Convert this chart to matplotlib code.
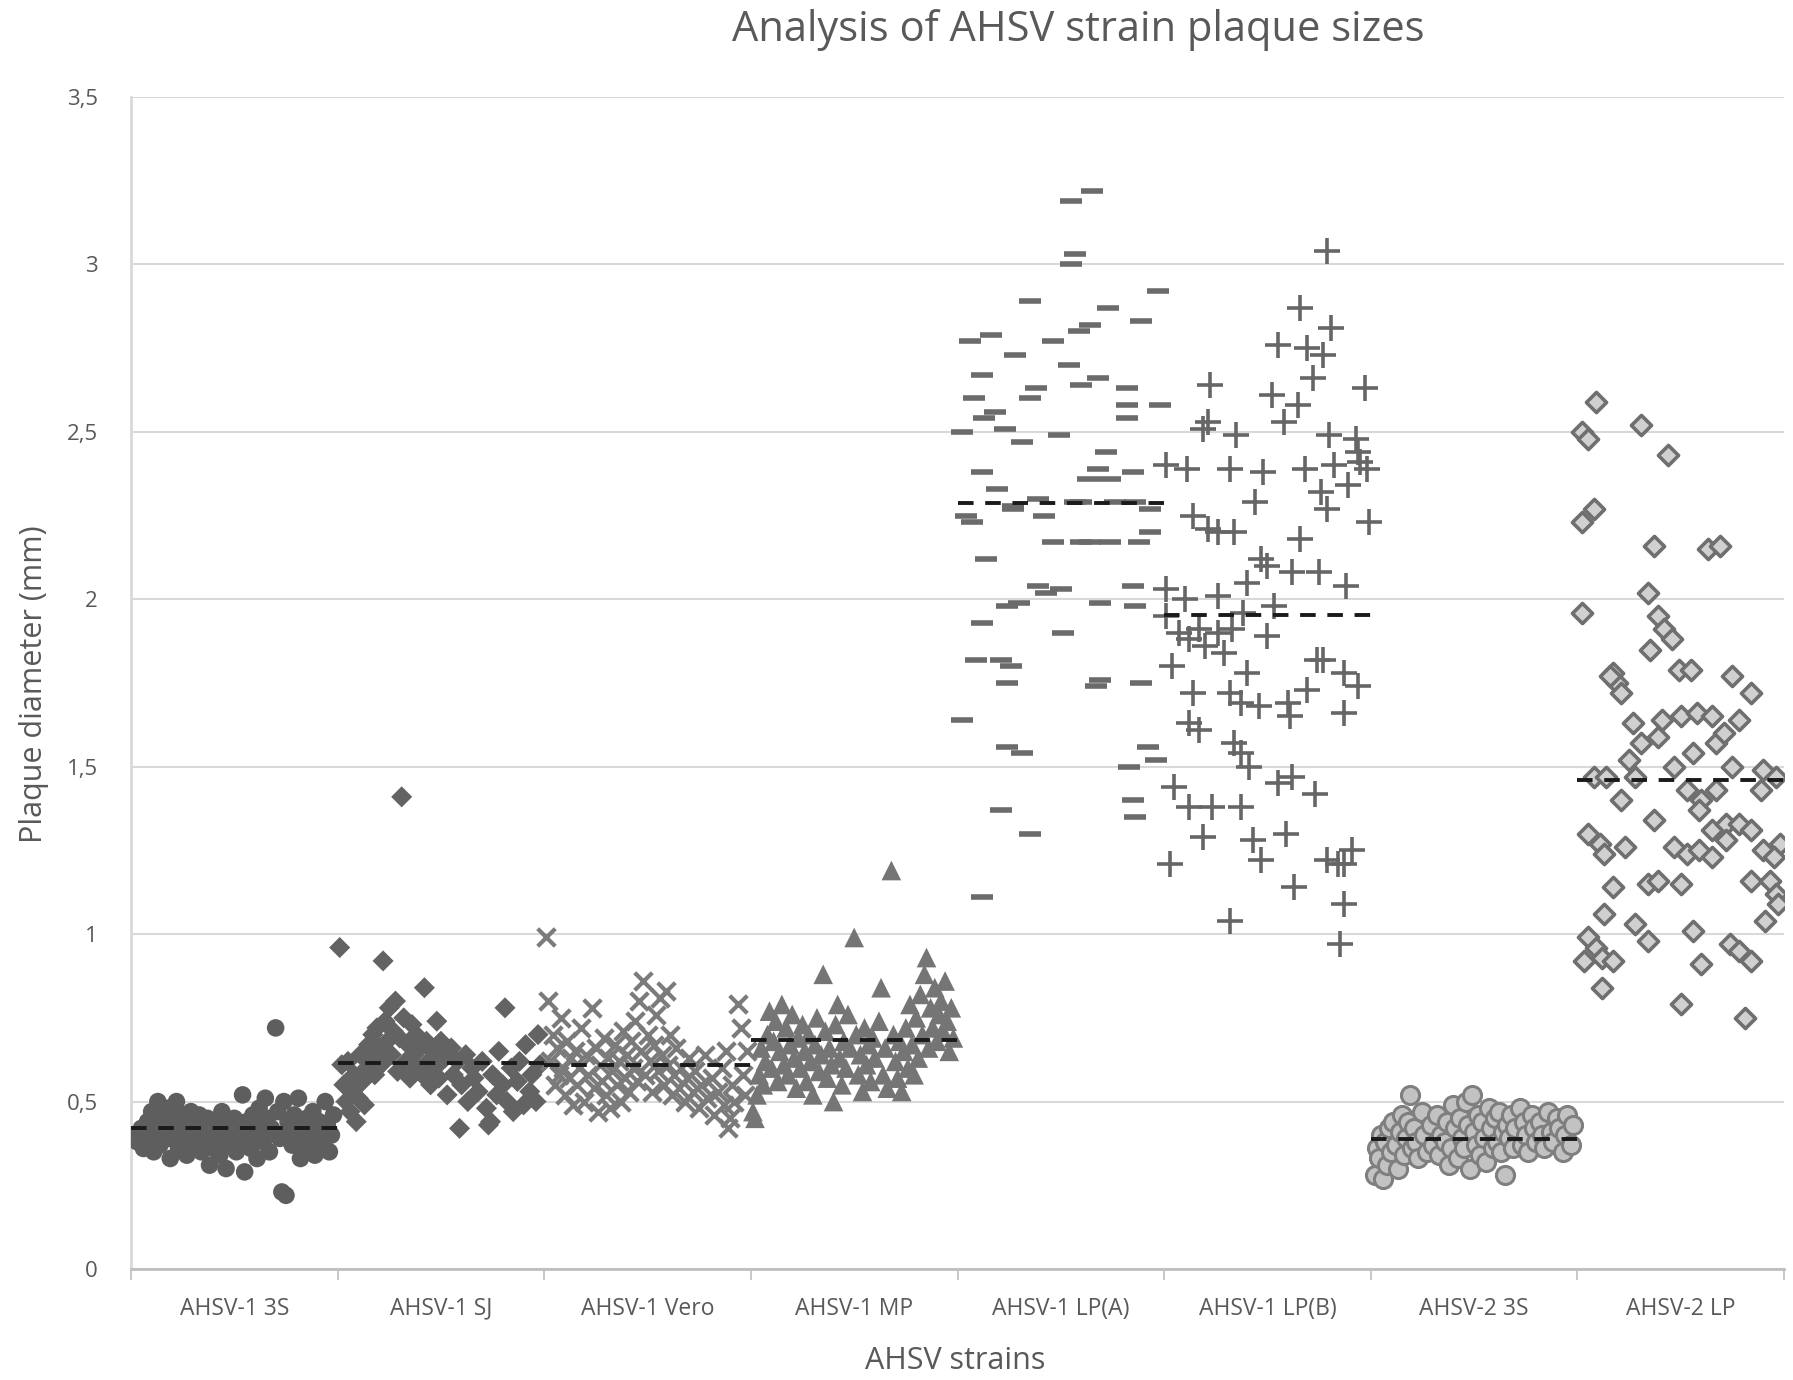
import matplotlib
matplotlib.use('Agg')
import matplotlib.pyplot as plt
from matplotlib.ticker import FixedLocator, NullFormatter

plt.rcParams['font.family'] = ['Open Sans', 'DejaVu Sans']

# category names and group means (dashed lines)
strains = ['AHSV-1 3S', 'AHSV-1 SJ', 'AHSV-1 Vero', 'AHSV-1 MP',
           'AHSV-1 LP(A)', 'AHSV-1 LP(B)', 'AHSV-2 3S', 'AHSV-2 LP']
means = [0.42, 0.615, 0.608, 0.683, 2.288, 1.953, 0.389, 1.461]

# position inside the category (0..1) and plaque diameter (mm)
s1_pos = [0.02, 0.03, 0.05, 0.06, 0.08, 0.09, 0.10, 0.11, 0.12, 0.13, 0.14, 0.15, 0.16, 0.17, 0.18,
          0.19, 0.20, 0.21, 0.22, 0.23, 0.24, 0.25, 0.26, 0.27, 0.28, 0.29, 0.30, 0.31, 0.32, 0.33,
          0.34, 0.35, 0.36, 0.37, 0.38, 0.39, 0.40, 0.41, 0.42, 0.43, 0.44, 0.45, 0.46, 0.47, 0.48,
          0.49, 0.50, 0.51, 0.52, 0.53, 0.54, 0.55, 0.56, 0.57, 0.58, 0.59, 0.60, 0.61, 0.62, 0.63,
          0.64, 0.65, 0.66, 0.67, 0.68, 0.70, 0.71, 0.72, 0.73, 0.74, 0.75, 0.76, 0.77, 0.78, 0.79,
          0.80, 0.81, 0.82, 0.83, 0.84, 0.85, 0.86, 0.87, 0.88, 0.89, 0.90, 0.91, 0.92, 0.94, 0.95,
          0.96, 0.97, 0.98]
s1_val = [0.40, 0.38, 0.42, 0.36, 0.44, 0.39, 0.47, 0.35, 0.41, 0.50, 0.37, 0.45, 0.43, 0.48, 0.39,
          0.33, 0.46, 0.41, 0.50, 0.36, 0.44, 0.38, 0.46, 0.34, 0.42, 0.47, 0.40, 0.37, 0.44, 0.46,
          0.35, 0.41, 0.38, 0.45, 0.31, 0.42, 0.36, 0.44, 0.40, 0.34, 0.47, 0.39, 0.30, 0.43, 0.37,
          0.41, 0.45, 0.35, 0.42, 0.38, 0.52, 0.29, 0.44, 0.40, 0.36, 0.46, 0.43, 0.33, 0.48, 0.41,
          0.38, 0.51, 0.45, 0.35, 0.42, 0.72, 0.47, 0.39, 0.23, 0.50, 0.22, 0.44, 0.41, 0.37, 0.46,
          0.43, 0.51, 0.33, 0.40, 0.36, 0.45, 0.42, 0.38, 0.47, 0.34, 0.41, 0.44, 0.37, 0.50, 0.43,
          0.35, 0.40, 0.46]

s2_pos = [0.01, 0.02, 0.03, 0.04, 0.05, 0.06, 0.07, 0.08, 0.09, 0.10, 0.11, 0.12, 0.13, 0.14, 0.15,
          0.16, 0.17, 0.18, 0.19, 0.20, 0.21, 0.22, 0.23, 0.24, 0.25, 0.26, 0.27, 0.28, 0.29, 0.30,
          0.31, 0.32, 0.33, 0.34, 0.35, 0.36, 0.37, 0.38, 0.39, 0.40, 0.41, 0.42, 0.43, 0.44, 0.45,
          0.46, 0.47, 0.48, 0.49, 0.50, 0.52, 0.53, 0.55, 0.56, 0.58, 0.59, 0.60, 0.62, 0.63, 0.65,
          0.66, 0.68, 0.70, 0.72, 0.73, 0.74, 0.75, 0.77, 0.78, 0.80, 0.81, 0.82, 0.84, 0.85, 0.87,
          0.88, 0.90, 0.91, 0.93, 0.94, 0.96, 0.97, 0.98]
s2_val = [0.96, 0.61, 0.55, 0.50, 0.62, 0.47, 0.53, 0.58, 0.44, 0.51, 0.64, 0.56, 0.49, 0.60, 0.67,
          0.63, 0.70, 0.58, 0.72, 0.66, 0.61, 0.92, 0.74, 0.68, 0.78, 0.64, 0.71, 0.80, 0.59, 0.69,
          1.41, 0.75, 0.62, 0.67, 0.57, 0.73, 0.64, 0.70, 0.60, 0.66, 0.58, 0.84, 0.68, 0.62, 0.55,
          0.65, 0.60, 0.74, 0.57, 0.68, 0.63, 0.52, 0.66, 0.58, 0.62, 0.42, 0.55, 0.64, 0.50, 0.60,
          0.57, 0.53, 0.62, 0.48, 0.43, 0.44, 0.58, 0.52, 0.65, 0.55, 0.78, 0.50, 0.60, 0.47, 0.56,
          0.62, 0.49, 0.67, 0.53, 0.58, 0.50, 0.70, 0.61]

s3_pos = [0.01, 0.02, 0.03, 0.04, 0.05, 0.06, 0.07, 0.08, 0.09, 0.10, 0.11, 0.12, 0.13, 0.14, 0.15,
          0.16, 0.17, 0.18, 0.19, 0.20, 0.21, 0.23, 0.24, 0.25, 0.26, 0.27, 0.28, 0.29, 0.30, 0.31,
          0.32, 0.33, 0.34, 0.35, 0.36, 0.37, 0.38, 0.39, 0.40, 0.41, 0.42, 0.43, 0.44, 0.45, 0.46,
          0.47, 0.48, 0.49, 0.50, 0.51, 0.52, 0.53, 0.54, 0.55, 0.56, 0.57, 0.58, 0.59, 0.60, 0.61,
          0.62, 0.63, 0.64, 0.65, 0.66, 0.68, 0.69, 0.70, 0.72, 0.73, 0.75, 0.76, 0.78, 0.79, 0.81,
          0.82, 0.84, 0.86, 0.87, 0.88, 0.89, 0.90, 0.91, 0.92, 0.94, 0.95, 0.96, 0.97, 0.98]
s3_val = [0.99, 0.80, 0.62, 0.70, 0.55, 0.66, 0.58, 0.75, 0.60, 0.52, 0.68, 0.57, 0.63, 0.49, 0.65,
          0.55, 0.60, 0.72, 0.50, 0.64, 0.58, 0.78, 0.54, 0.66, 0.47, 0.61, 0.56, 0.69, 0.52, 0.63,
          0.48, 0.59, 0.67, 0.55, 0.62, 0.50, 0.71, 0.57, 0.64, 0.53, 0.68, 0.60, 0.74, 0.56, 0.80,
          0.65, 0.86, 0.58, 0.70, 0.62, 0.53, 0.67, 0.76, 0.59, 0.81, 0.64, 0.55, 0.83, 0.61, 0.70,
          0.52, 0.58, 0.66, 0.54, 0.60, 0.50, 0.57, 0.63, 0.53, 0.59, 0.48, 0.55, 0.64, 0.51, 0.57,
          0.46, 0.53, 0.60, 0.49, 0.65, 0.42, 0.45, 0.55, 0.50, 0.79, 0.72, 0.58, 0.52, 0.65]

s4_pos = [0.01, 0.02, 0.03, 0.04, 0.05, 0.06, 0.07, 0.08, 0.09, 0.10, 0.11, 0.12, 0.13, 0.14, 0.15,
          0.16, 0.17, 0.18, 0.19, 0.20, 0.21, 0.22, 0.23, 0.24, 0.25, 0.26, 0.27, 0.28, 0.29, 0.30,
          0.31, 0.32, 0.33, 0.34, 0.35, 0.36, 0.37, 0.38, 0.39, 0.40, 0.41, 0.42, 0.43, 0.44, 0.45,
          0.46, 0.47, 0.48, 0.50, 0.51, 0.52, 0.53, 0.54, 0.55, 0.56, 0.57, 0.58, 0.59, 0.60, 0.62,
          0.63, 0.64, 0.65, 0.66, 0.68, 0.69, 0.70, 0.71, 0.72, 0.73, 0.74, 0.75, 0.76, 0.77, 0.78,
          0.79, 0.80, 0.81, 0.82, 0.83, 0.84, 0.85, 0.86, 0.87, 0.88, 0.89, 0.90, 0.91, 0.92, 0.93,
          0.94, 0.95, 0.96, 0.97, 0.98]
s4_val = [0.47, 0.45, 0.52, 0.58, 0.66, 0.55, 0.62, 0.70, 0.77, 0.60, 0.68, 0.74, 0.56, 0.65, 0.79,
          0.61, 0.72, 0.58, 0.67, 0.76, 0.63, 0.54, 0.69, 0.60, 0.73, 0.65, 0.56, 0.70, 0.62, 0.52,
          0.67, 0.75, 0.59, 0.64, 0.88, 0.71, 0.57, 0.66, 0.61, 0.50, 0.73, 0.79, 0.63, 0.55, 0.68,
          0.60, 0.76, 0.66, 0.99, 0.70, 0.58, 0.64, 0.53, 0.72, 0.61, 0.67, 0.56, 0.69, 0.63, 0.74,
          0.84, 0.58, 0.66, 0.54, 1.19, 0.70, 0.62, 0.57, 0.68, 0.53, 0.65, 0.72, 0.60, 0.79, 0.67,
          0.58, 0.75, 0.63, 0.82, 0.70, 0.88, 0.93, 0.66, 0.78, 0.72, 0.84, 0.68, 0.76, 0.80, 0.71,
          0.86, 0.74, 0.65, 0.78, 0.69]

s5_pos = [0.12, 0.21, 0.35, 0.02, 0.06, 0.08, 0.04, 0.07, 0.12, 0.13, 0.12, 0.16, 0.18, 0.19, 0.14,
          0.12, 0.09, 0.02, 0.21, 0.26, 0.24, 0.24, 0.31, 0.24, 0.28, 0.23, 0.27, 0.31, 0.35, 0.35,
          0.38, 0.39, 0.42, 0.39, 0.43, 0.30, 0.27, 0.46, 0.49, 0.46, 0.50, 0.51, 0.54, 0.55, 0.57,
          0.55, 0.65, 0.59, 0.64, 0.60, 0.57, 0.60, 0.63, 0.68, 0.73, 0.72, 0.74, 0.74, 0.67, 0.69,
          0.69, 0.64, 0.60, 0.82, 0.82, 0.82, 0.85, 0.88, 0.89, 0.86, 0.85, 0.86, 0.83, 0.85, 0.86,
          0.89, 0.92, 0.96, 0.97, 0.98, 0.93, 0.93, 0.76, 0.68]
s5_val = [1.11, 1.37, 1.30, 2.50, 2.77, 2.60, 2.25, 2.23, 2.67, 2.54, 2.38, 2.79, 2.56, 2.33, 2.12,
          1.93, 1.82, 1.64, 1.82, 1.80, 1.75, 1.56, 1.54, 1.98, 2.73, 2.51, 2.28, 2.47, 2.89, 2.60,
          2.63, 2.30, 2.25, 2.04, 2.02, 1.99, 2.27, 2.77, 2.49, 2.17, 2.03, 1.90, 2.70, 3.00, 3.03,
          3.19, 3.22, 2.80, 2.82, 2.64, 2.29, 2.29, 2.36, 2.39, 2.87, 2.44, 2.36, 2.17, 1.74, 1.76,
          1.99, 2.17, 2.17, 2.63, 2.58, 2.54, 2.38, 2.17, 2.83, 2.29, 2.04, 1.98, 1.50, 1.40, 1.35,
          1.75, 1.56, 1.52, 2.92, 2.58, 2.20, 2.27, 2.29, 2.66]

s6_pos = [0.79, 0.66, 0.81, 0.55, 0.69, 0.77, 0.72, 0.22, 0.97, 0.52, 0.65, 0.21, 0.58, 0.19, 0.35,
          0.80, 0.93, 0.94, 0.95, 0.98, 0.01, 0.11, 0.32, 0.48, 0.68, 0.82, 0.89, 0.44, 0.76, 0.79,
          0.14, 0.21, 0.26, 0.34, 0.99, 0.66, 0.47, 0.50, 0.62, 0.75, 0.40, 0.01, 0.88, 0.10, 0.26,
          0.53, 0.38, 0.01, 0.50, 0.07, 0.17, 0.26, 0.33, 0.12, 0.20, 0.29, 0.04, 0.74, 0.77, 0.40,
          0.87, 0.94, 0.69, 0.14, 0.32, 0.46, 0.60, 0.37, 0.61, 0.87, 0.12, 0.17, 0.34, 0.37, 0.41,
          0.55, 0.62, 0.05, 0.12, 0.23, 0.37, 0.73, 0.19, 0.43, 0.59, 0.47, 0.91, 0.79, 0.84, 0.87,
          0.03, 0.63, 0.87, 0.32, 0.85]
s6_val = [3.04, 2.87, 2.81, 2.76, 2.75, 2.73, 2.66, 2.64, 2.63, 2.61, 2.58, 2.53, 2.53, 2.51, 2.49,
          2.49, 2.48, 2.44, 2.41, 2.39, 2.40, 2.39, 2.39, 2.38, 2.39, 2.40, 2.34, 2.29, 2.32, 2.27,
          2.25, 2.21, 2.20, 2.20, 2.23, 2.18, 2.12, 2.10, 2.08, 2.08, 2.05, 2.03, 2.04, 2.00, 2.01,
          1.98, 1.96, 1.95, 1.89, 1.90, 1.91, 1.90, 1.91, 1.88, 1.86, 1.84, 1.80, 1.82, 1.82, 1.78,
          1.78, 1.74, 1.73, 1.72, 1.72, 1.68, 1.69, 1.69, 1.65, 1.66, 1.63, 1.61, 1.57, 1.54, 1.50,
          1.45, 1.47, 1.44, 1.38, 1.38, 1.38, 1.42, 1.29, 1.28, 1.30, 1.22, 1.25, 1.22, 1.21, 1.21,
          1.21, 1.14, 1.09, 1.04, 0.97]

s7_pos = [0.02, 0.03, 0.04, 0.05, 0.06, 0.07, 0.08, 0.09, 0.10, 0.11, 0.12, 0.13, 0.14, 0.15, 0.16,
          0.17, 0.18, 0.19, 0.20, 0.21, 0.22, 0.23, 0.25, 0.26, 0.27, 0.29, 0.30, 0.32, 0.33, 0.34,
          0.36, 0.37, 0.38, 0.39, 0.40, 0.41, 0.42, 0.43, 0.44, 0.45, 0.46, 0.47, 0.48, 0.49, 0.50,
          0.51, 0.52, 0.53, 0.54, 0.55, 0.56, 0.57, 0.58, 0.59, 0.60, 0.61, 0.62, 0.63, 0.64, 0.65,
          0.66, 0.67, 0.68, 0.69, 0.70, 0.72, 0.73, 0.74, 0.75, 0.76, 0.78, 0.79, 0.80, 0.82, 0.83,
          0.84, 0.86, 0.87, 0.88, 0.90, 0.91, 0.93, 0.94, 0.95, 0.97, 0.98]
s7_val = [0.28, 0.36, 0.33, 0.40, 0.27, 0.38, 0.31, 0.42, 0.35, 0.44, 0.37, 0.30, 0.41, 0.46, 0.34,
          0.39, 0.44, 0.52, 0.36, 0.42, 0.38, 0.33, 0.47, 0.40, 0.35, 0.43, 0.37, 0.46, 0.34, 0.40,
          0.38, 0.44, 0.31, 0.36, 0.49, 0.42, 0.33, 0.45, 0.39, 0.36, 0.50, 0.43, 0.30, 0.52, 0.41,
          0.37, 0.46, 0.34, 0.44, 0.39, 0.32, 0.48, 0.42, 0.36, 0.45, 0.38, 0.47, 0.35, 0.41, 0.28,
          0.43, 0.39, 0.46, 0.36, 0.42, 0.48, 0.37, 0.44, 0.40, 0.35, 0.46, 0.42, 0.38, 0.44, 0.40,
          0.36, 0.47, 0.41, 0.38, 0.45, 0.42, 0.35, 0.40, 0.46, 0.37, 0.43]

s8_pos = [0.09, 0.02, 0.05, 0.31, 0.44, 0.08, 0.02, 0.37, 0.63, 0.69, 0.02, 0.34, 0.39, 0.42, 0.46,
          0.35, 0.17, 0.19, 0.21, 0.16, 0.49, 0.55, 0.75, 0.84, 0.27, 0.41, 0.50, 0.58, 0.65, 0.78,
          0.31, 0.39, 0.25, 0.28, 0.47, 0.56, 0.67, 0.71, 0.08, 0.14, 0.21, 0.53, 0.60, 0.67, 0.75,
          0.90, 0.96, 0.89, 0.37, 0.59, 0.65, 0.72, 0.78, 0.05, 0.11, 0.13, 0.23, 0.47, 0.53, 0.59,
          0.65, 0.72, 0.84, 0.90, 0.98, 0.95, 0.17, 0.34, 0.39, 0.50, 0.84, 0.93, 0.96, 0.97, 0.13,
          0.28, 0.34, 0.56, 0.91, 0.05, 0.09, 0.12, 0.17, 0.03, 0.12, 0.50, 0.60, 0.74, 0.78, 0.84,
          0.81]
s8_val = [2.59, 2.50, 2.48, 2.52, 2.43, 2.27, 2.23, 2.16, 2.15, 2.16, 1.96, 2.02, 1.95, 1.91, 1.88,
          1.85, 1.78, 1.75, 1.72, 1.77, 1.79, 1.79, 1.77, 1.72, 1.63, 1.64, 1.65, 1.66, 1.65, 1.64,
          1.57, 1.59, 1.52, 1.47, 1.50, 1.54, 1.57, 1.60, 1.47, 1.47, 1.40, 1.43, 1.40, 1.43, 1.50,
          1.49, 1.47, 1.43, 1.34, 1.37, 1.31, 1.33, 1.33, 1.30, 1.27, 1.24, 1.26, 1.26, 1.24, 1.25,
          1.23, 1.28, 1.31, 1.25, 1.27, 1.23, 1.14, 1.15, 1.16, 1.15, 1.16, 1.16, 1.12, 1.09, 1.06,
          1.03, 0.98, 1.01, 1.04, 0.99, 0.96, 0.93, 0.92, 0.92, 0.84, 0.79, 0.91, 0.97, 0.95, 0.92,
          0.75]

groups = [(s1_pos, s1_val), (s2_pos, s2_val), (s3_pos, s3_val), (s4_pos, s4_val),
          (s5_pos, s5_val), (s6_pos, s6_val), (s7_pos, s7_val), (s8_pos, s8_val)]

styles = [
    dict(marker='o', s=160, c='#5e5e5e', edgecolors='none'),
    dict(marker='D', s=115, c='#636363', edgecolors='none'),
    dict(marker='x', s=160, c='#7b7b7b', linewidths=3),
    dict(marker='^', s=200, c='#757575', edgecolors='none'),
    dict(marker='_', s=260, c='#6b6b6b', linewidths=4),
    dict(marker='+', s=330, c='#666666', linewidths=2.6),
    dict(marker='o', s=170, c='#c2c2c2', edgecolors='#7f7f7f', linewidths=2.2),
    dict(marker='D', s=105, c='#d0d0d0', edgecolors='#6f6f6f', linewidths=2.6),
]

fig = plt.figure(figsize=(17.93, 13.8), dpi=100)
ax = fig.add_axes([131 / 1793, 1 - 1269 / 1380, (1784 - 131) / 1793, (1269 - 97) / 1380])

for i, (pos, val) in enumerate(groups):
    xs = [i + p for p in pos]
    ax.scatter(xs, val, zorder=3, **styles[i])

for i, m in enumerate(means):
    ax.hlines(m, i, i + 1, colors='#1a1a1a', linestyles=(0, (4, 3)), linewidth=2.8, zorder=4)

ax.set_xlim(0, 8)
ax.set_ylim(0, 3.5)
yt = [0, 0.5, 1, 1.5, 2, 2.5, 3, 3.5]
ax.set_yticks(yt)
ax.set_yticklabels([('%g' % v).replace('.', ',') for v in yt], color='#595959', fontsize=16)
ax.yaxis.grid(True, color='#d9d9d9', linewidth=1.5)
ax.set_axisbelow(True)

ax.xaxis.set_major_locator(FixedLocator(range(9)))
ax.xaxis.set_major_formatter(NullFormatter())
ax.xaxis.set_minor_locator(FixedLocator([i + 0.5 for i in range(8)]))
ax.set_xticklabels(strains, minor=True, color='#595959', fontsize=16.5)
ax.tick_params(axis='x', which='major', length=8, width=1.2, color='#bfbfbf', direction='out')
ax.tick_params(axis='x', which='minor', length=0, pad=20)
ax.tick_params(axis='y', length=0, pad=24)

for side in ['top', 'right']:
    ax.spines[side].set_visible(False)
ax.spines['left'].set_color('#d9d9d9')
ax.spines['left'].set_linewidth(2)
ax.spines['bottom'].set_color('#bfbfbf')
ax.spines['bottom'].set_linewidth(2)

fig.text(1078 / 1793, 1 - 30 / 1380, 'Analysis of AHSV strain plaque sizes', ha='center', va='center',
         fontsize=30, color='#595959')
fig.text(955 / 1793, 1 - 1361 / 1380, 'AHSV strains', ha='center', va='center', fontsize=22, color='#595959')
fig.text(34 / 1793, 1 - 684 / 1380, 'Plaque diameter (mm)', ha='center', va='center', rotation=90,
         fontsize=22, color='#595959')

fig.savefig('out.png', dpi=100)
